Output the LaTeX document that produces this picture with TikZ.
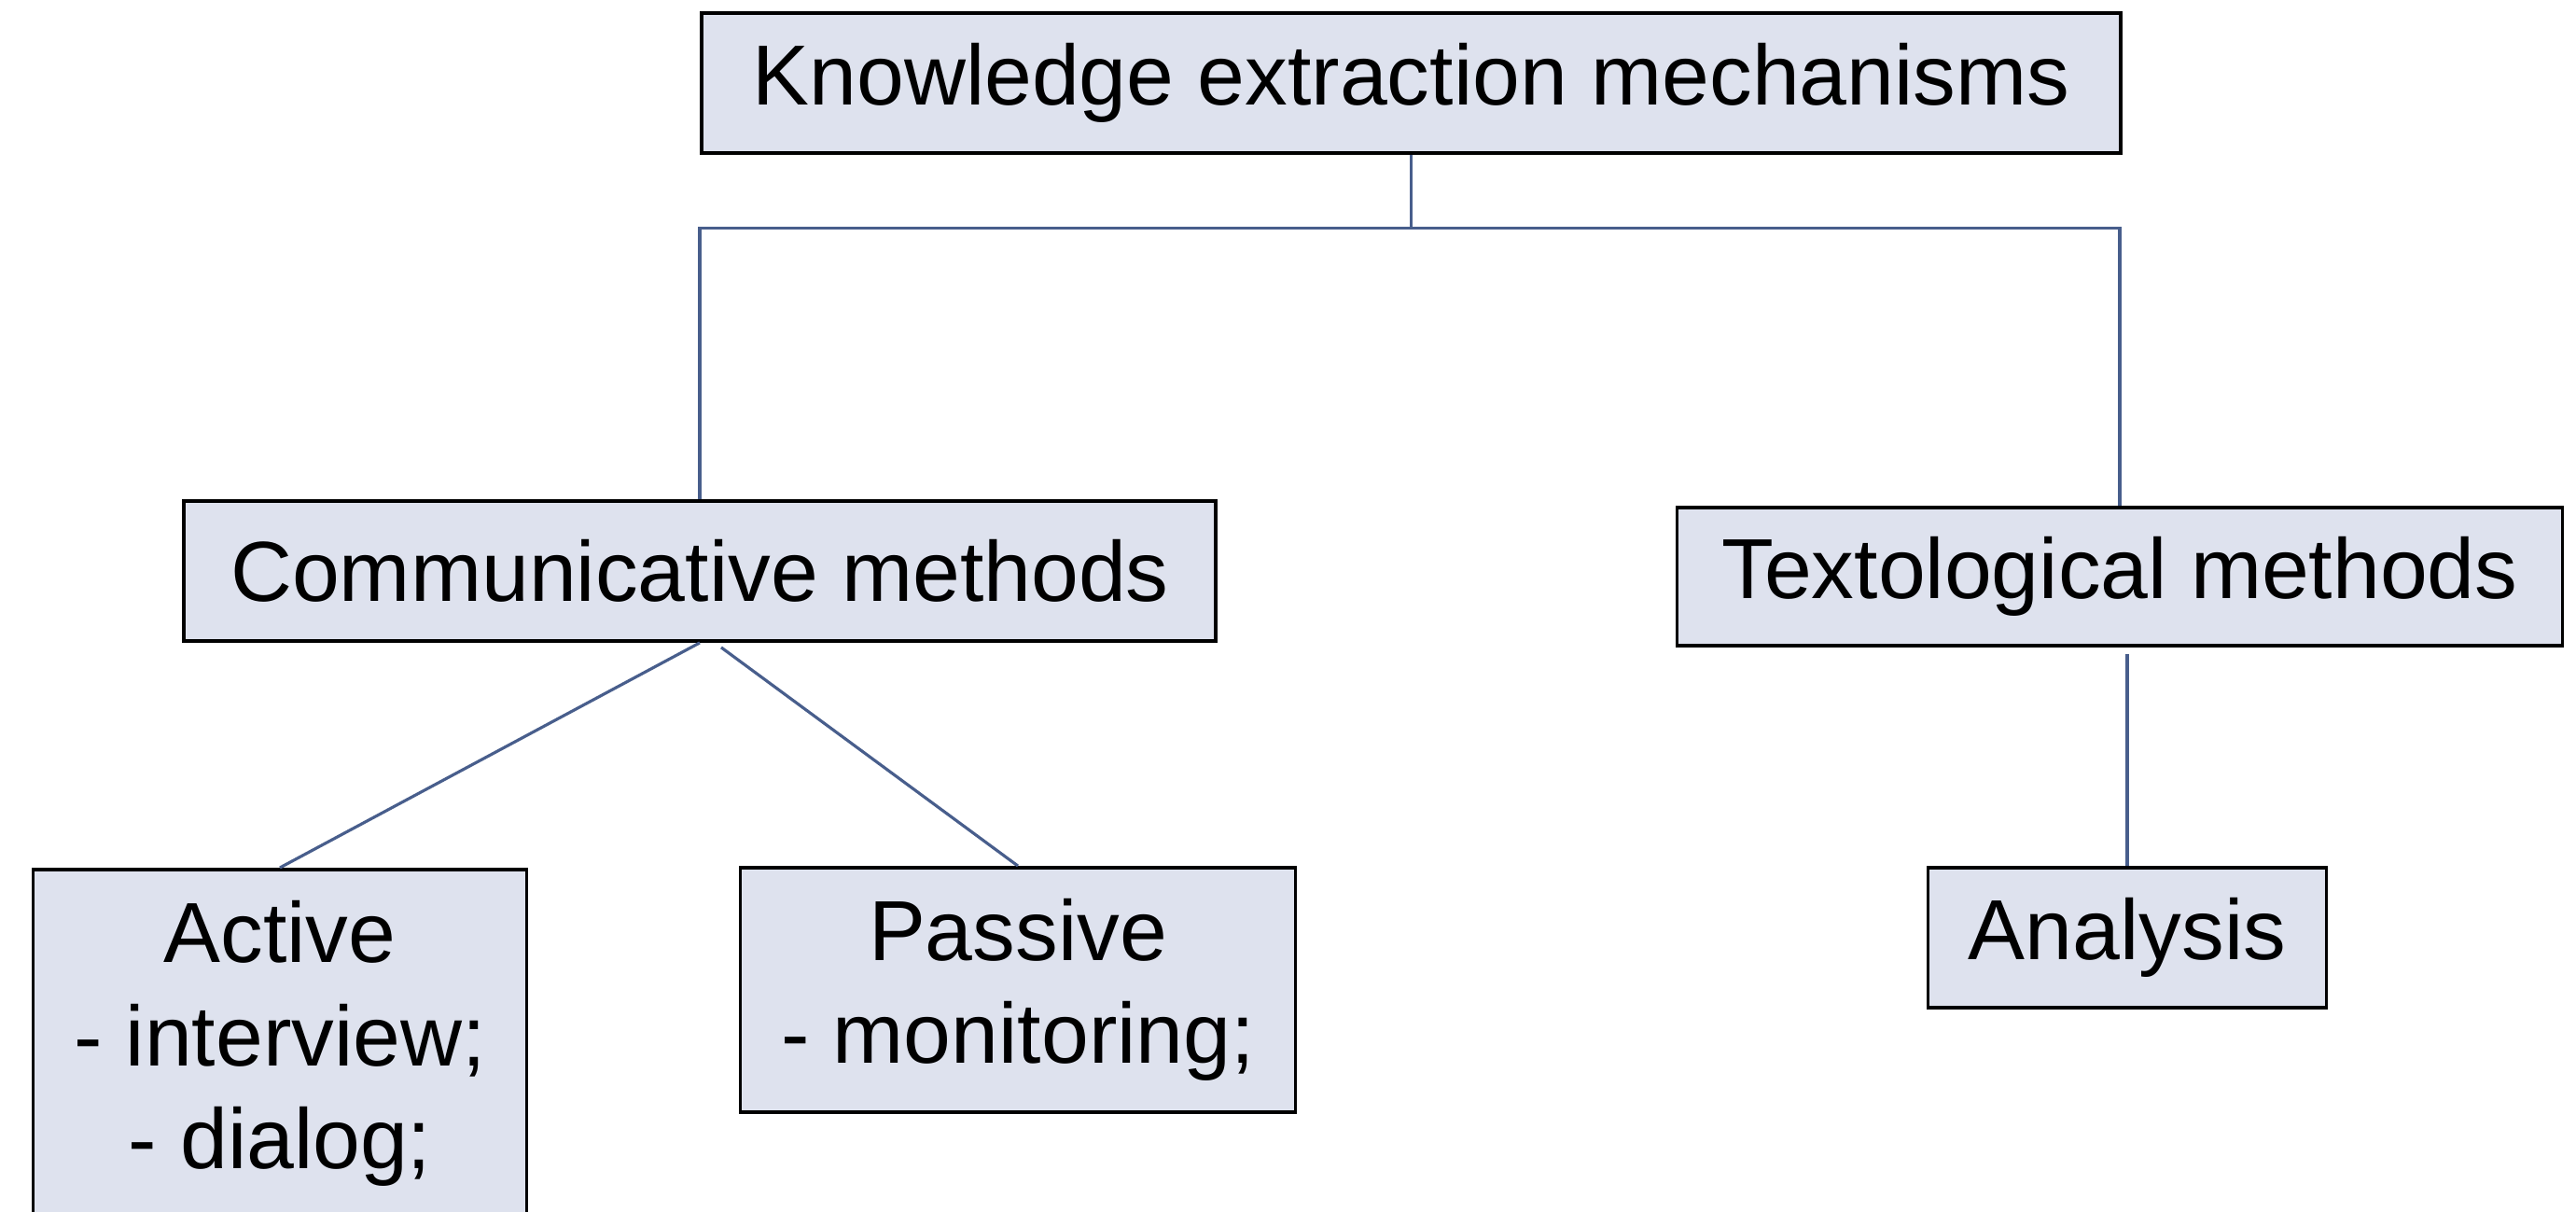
\documentclass[tikz,border=0pt]{standalone}
\usepackage{fontspec}
\setmainfont{Liberation Sans}
\definecolor{boxfill}{RGB}{222,226,238}
\definecolor{linkblue}{RGB}{72,94,140}

\begin{document}
\begin{tikzpicture}
\tikzset{ box/.style={draw=black, fill=boxfill, line width=1.1pt, inner sep=0pt, align=center,
                      font=\fontsize{26}{31.5}\selectfont},
          link/.style={draw=linkblue, line width=0.9pt}, }

\useasboundingbox (0,0) rectangle (27.61,12.99);
\clip (0,0) rectangle (27.61,12.99);

%\draw [lightgray, dashed](0,0) grid (27,12);

\node [box, minimum width=15.21cm, minimum height=1.50cm] (KEM) at (15.125,12.10) {Knowledge extraction mechanisms};

\node [box, minimum width=11.06cm, minimum height=1.50cm] (CM) at (7.50,6.87) {Communicative methods};
\node [box, minimum width=9.49cm,  minimum height=1.48cm] (TM) at (22.72,6.81) {Textological methods};

\node [box, anchor=north, minimum width=5.29cm, minimum height=3.73cm] (ACT) at (3.00,3.69) {Active\\- interview;\\- dialog;};
\node [box, minimum width=5.95cm, minimum height=2.62cm] (PAS) at (10.91,2.38) {Passive\\- monitoring;};
\node [box, minimum width=4.27cm, minimum height=1.50cm] (ANA) at (22.80,2.94) {Analysis};

\draw [link] (KEM.south) -- ++(0,-0.79) coordinate (J);
\draw [link] (CM.north) |- (J) -| (TM.north);

\draw [link] (CM.south) -- (ACT.north);
\draw [link] ([xshift=0.23cm, yshift=-0.05cm]CM.south) -- (PAS.north);

\draw [link] (ANA.north) -- ([yshift=-0.07cm]ANA.north |- TM.south);

\end{tikzpicture}
\end{document}
